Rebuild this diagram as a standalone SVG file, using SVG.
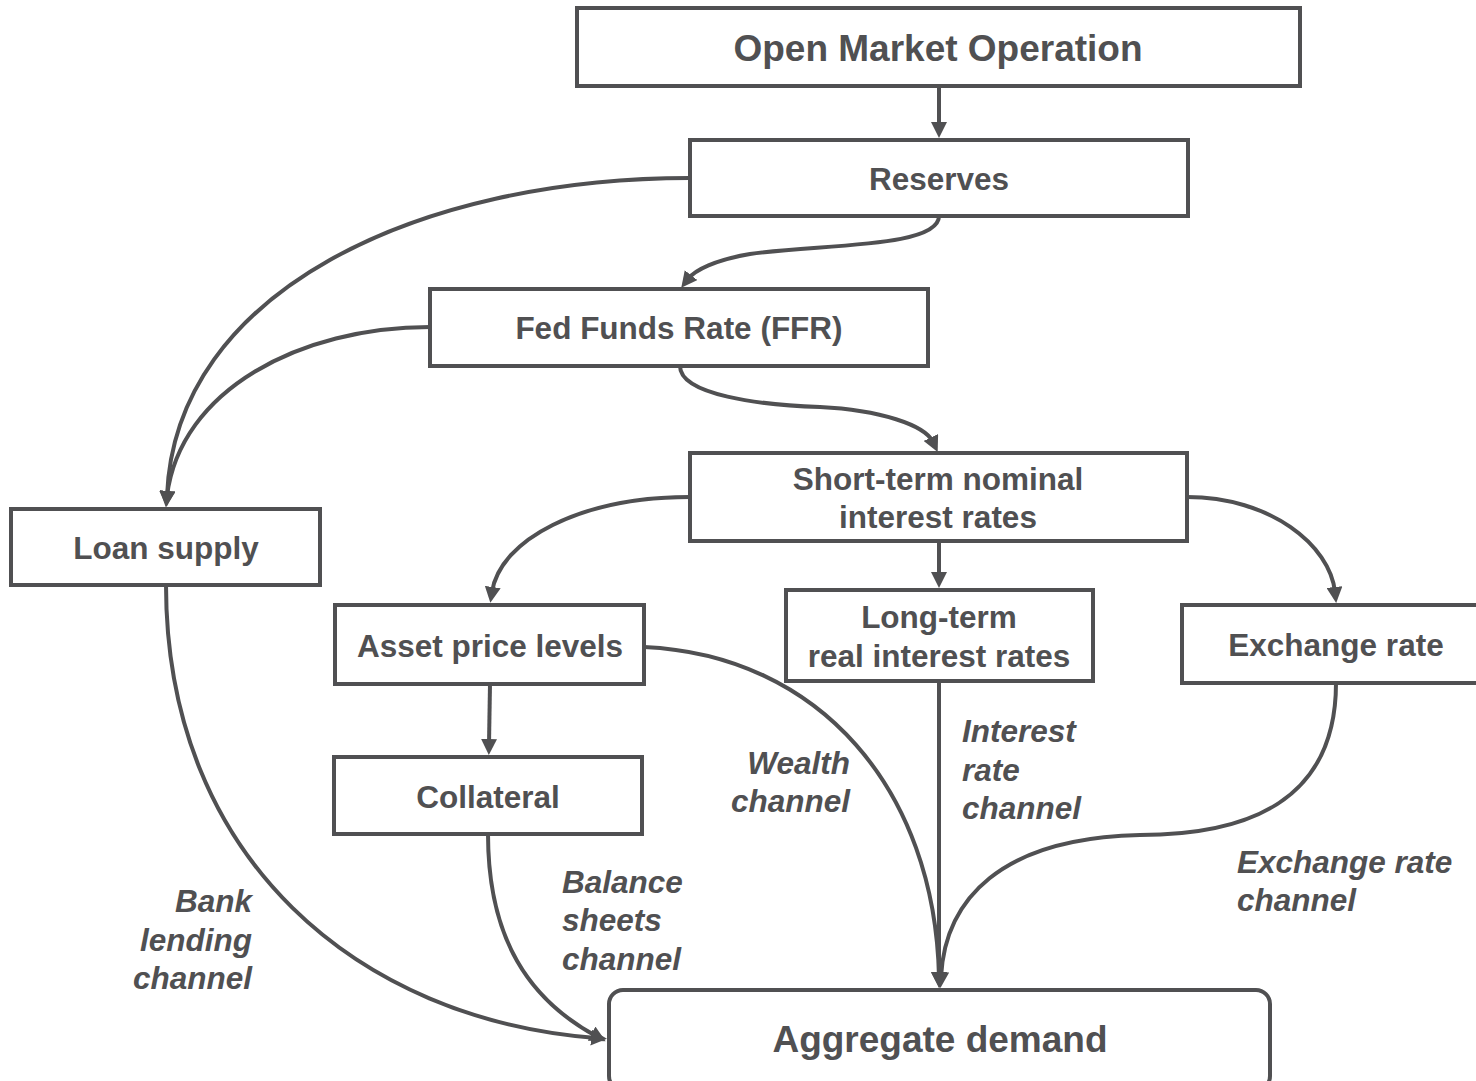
<svg xmlns="http://www.w3.org/2000/svg" width="1476" height="1081" viewBox="0 0 1476 1081">
<style>
.box{fill:#fff;stroke:#505052;stroke-width:4}
.t{font-family:"Liberation Sans",Arial,sans-serif;font-weight:bold;fill:#505052;text-anchor:middle;font-size:31.5px}
.big{font-size:37px}
.lab{font-family:"Liberation Sans",Arial,sans-serif;font-weight:bold;font-style:italic;fill:#505052;font-size:31.5px}
.c{fill:none;stroke:#505052;stroke-width:4;marker-end:url(#ah)}
</style>
<defs>
<marker id="ah" viewBox="0 0 16 16" markerWidth="16" markerHeight="16" refX="5" refY="8" orient="auto" markerUnits="userSpaceOnUse">
<path d="M0,0 L16,8 L0,16 z" fill="#505052"/>
</marker>
</defs>
<rect width="1476" height="1081" fill="#fff"/>
<g id="connectors">
<path class="c" d="M939,86 L939,127"/>
<path class="c" d="M939,216 C939,248 820,244 750,254 C715,260 695,270 688,279"/>
<path class="c" d="M690,178 C420,178 175,290 167,496"/>
<path class="c" d="M430,327 C300,327 180,390 167,496"/>
<path class="c" d="M680,366 C680,395 760,405 820,407 C880,410 925,425 933,442"/>
<path class="c" d="M690,497 C580,497 500,540 492,592"/>
<path class="c" d="M939,541 L939,577"/>
<path class="c" d="M1187,497 C1270,497 1330,545 1335,592"/>
<path class="c" d="M490,684 L489,744"/>
<path class="c" d="M644,647 C820,655 935,790 939,977"/>
<path class="c" d="M939,681 L939,977"/>
<path class="c" d="M1336,683 C1336,800 1250,835 1140,835 C1000,838 945,900 941,977"/>
<path class="c" d="M166,585 C166,860 360,1020 596,1038"/>
<path class="c" d="M488,834 C488,940 530,1000 596,1036"/>
</g>
<g id="omo"><rect class="box" x="577" y="8" width="723" height="78"/><text class="t big" x="938" y="61">Open Market Operation</text></g>
<g id="reserves"><rect class="box" x="690" y="140" width="498" height="76"/><text class="t" x="939" y="190">Reserves</text></g>
<g id="ffr"><rect class="box" x="430" y="289" width="498" height="77"/><text class="t" x="679" y="339">Fed Funds Rate (FFR)</text></g>
<g id="short"><rect class="box" x="690" y="453" width="497" height="88"/><text class="t" x="938" y="490">Short-term nominal</text><text class="t" x="938" y="528">interest rates</text></g>
<g id="loan"><rect class="box" x="11" y="509" width="309" height="76"/><text class="t" x="166" y="559">Loan supply</text></g>
<g id="asset"><rect class="box" x="335" y="605" width="309" height="79"/><text class="t" x="490" y="657">Asset price levels</text></g>
<g id="longterm"><rect class="box" x="786" y="590" width="307" height="91"/><text class="t" x="939" y="628">Long-term</text><text class="t" x="939" y="667">real interest rates</text></g>
<g id="exchange"><rect class="box" x="1182" y="605" width="300" height="78"/><text class="t" x="1336" y="656">Exchange rate</text></g>
<g id="collateral"><rect class="box" x="334" y="757" width="308" height="77"/><text class="t" x="488" y="808">Collateral</text></g>
<g id="ad"><rect class="box" x="609" y="990" width="661" height="100" rx="14"/><text class="t big" x="940" y="1052">Aggregate demand</text></g>
<g id="labels">
<text class="lab" text-anchor="end"><tspan x="252" y="912">Bank</tspan><tspan x="252" y="951">lending</tspan><tspan x="252" y="989">channel</tspan></text>
<text class="lab"><tspan x="562" y="893">Balance</tspan><tspan x="562" y="931">sheets</tspan><tspan x="562" y="970">channel</tspan></text>
<text class="lab" text-anchor="end"><tspan x="850" y="774">Wealth</tspan><tspan x="850" y="812">channel</tspan></text>
<text class="lab"><tspan x="962" y="742">Interest</tspan><tspan x="962" y="781">rate</tspan><tspan x="962" y="819">channel</tspan></text>
<text class="lab"><tspan x="1237" y="873">Exchange rate</tspan><tspan x="1237" y="911">channel</tspan></text>
</g>
</svg>
